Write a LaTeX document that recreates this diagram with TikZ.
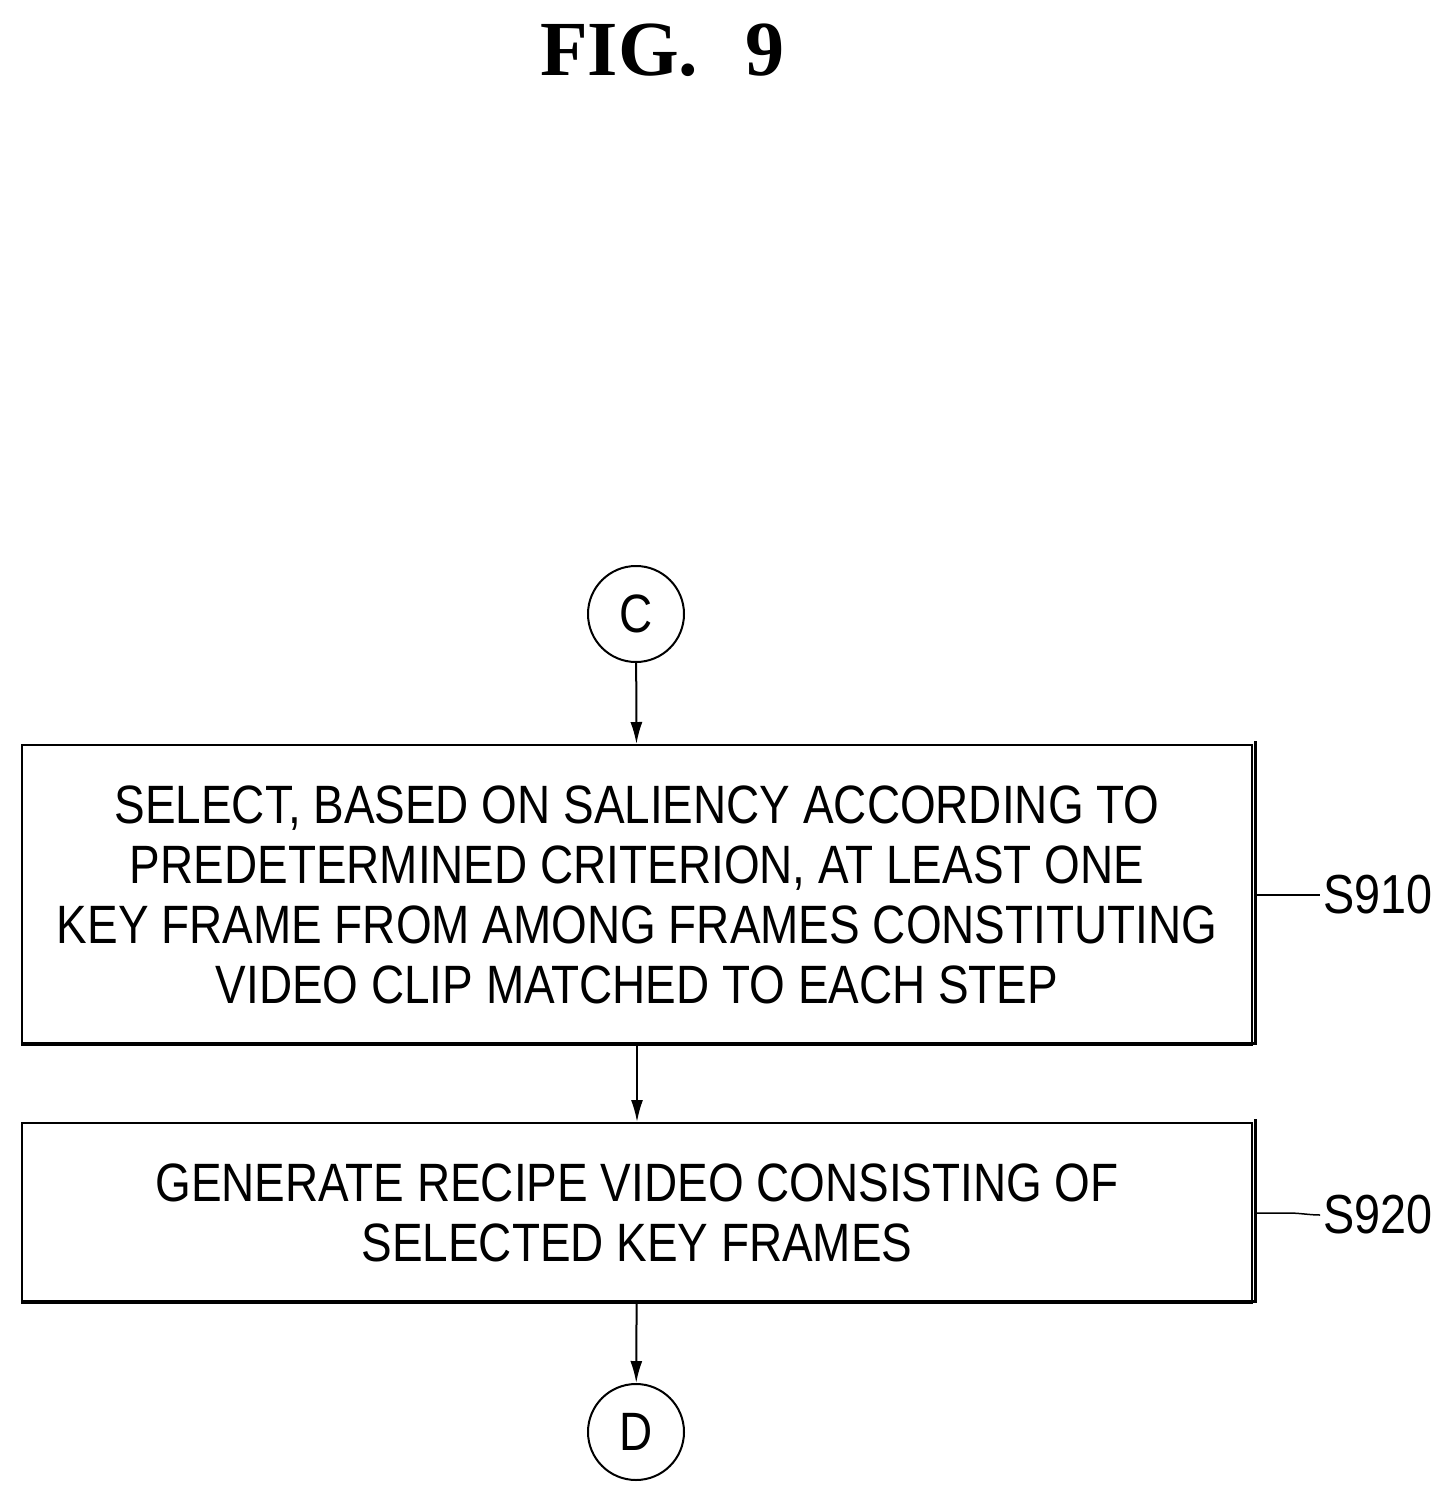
\documentclass[tikz,border=0pt]{standalone}
\usetikzlibrary{arrows.meta}
\usepackage{fontspec}
\setmainfont{Liberation Sans}
\newfontfamily\narrowf[FakeStretch=0.85]{Liberation Sans}
\newfontfamily\titlef{Liberation Serif}
\begin{document}
\begin{tikzpicture}[x=1pt,y=-1pt,
  box/.style={draw,line width=2pt,minimum width=1230pt,align=center,font=\narrowf\fontsize{54}{60}\selectfont,inner sep=0pt},
  conn/.style={draw,circle,line width=2pt,minimum size=96pt,inner sep=0pt,font=\narrowf\fontsize{54}{60}\selectfont},
  arr/.style={line width=2pt,-{Latex[length=22pt,width=12pt]}},
  lbl/.style={font=\narrowf\fontsize{55}{60}\selectfont,anchor=west}]
\useasboundingbox (0,0) rectangle (1453,1503);
\node (t) at (662,50) {\titlef\bfseries\fontsize{78}{80}\selectfont FIG.\hspace{0.6em}9};
\node[conn] (c) at (636,614) {C};
\node[box,minimum height=300pt,text depth=0pt] (b1) at (637,895) {\raisebox{0pt}{}SELECT, BASED ON SALIENCY ACCORDING TO\\PREDETERMINED CRITERION, AT LEAST ONE\\KEY FRAME FROM AMONG FRAMES CONSTITUTING\\VIDEO CLIP MATCHED TO EACH STEP};
\node[box,minimum height=180pt] (b2) at (637,1213) {GENERATE RECIPE VIDEO CONSISTING OF\\SELECTED KEY FRAMES};
\node[conn] (d) at (636,1432) {D};
\draw[line width=3pt] ([xshift=2pt,yshift=3pt]b1.south west) -- ([xshift=2pt,yshift=3pt]b1.south east) -- ([xshift=2pt,yshift=3pt]b1.north east);
\draw[line width=3pt] ([xshift=2pt,yshift=3pt]b2.south west) -- ([xshift=2pt,yshift=3pt]b2.south east) -- ([xshift=2pt,yshift=3pt]b2.north east);
\draw[arr] (c) -- (b1);
\draw[arr] (b1) -- (b2);
\draw[arr] (b2) -- (d);
\node[lbl] (s1) at (1320,895) {S910};
\node[lbl] (s2) at (1320,1215) {S920};
\draw[line width=1.5pt] (b1.east) ++(4,0) -- ++(32,0) .. controls ++(10,0) and ++(-10,0) .. (s1.west);
\draw[line width=1.5pt] (b2.east) ++(4,0) -- ++(32,0) .. controls ++(10,0) and ++(-10,0) .. (s2.west);
\end{tikzpicture}
\end{document}
